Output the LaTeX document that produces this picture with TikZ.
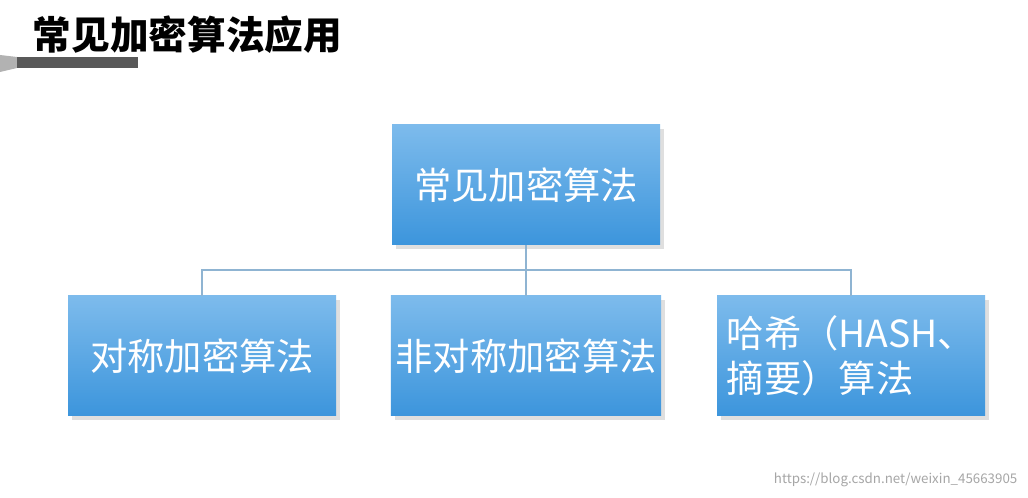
\documentclass[tikz,border=0pt]{standalone}
\usepackage{fontspec}
\setmainfont{Noto Sans CJK SC}
\usetikzlibrary{positioning,shadows}
\definecolor{boxtop}{HTML}{7DBBEC}
\definecolor{boxbot}{HTML}{3C95DC}
\definecolor{linkc}{HTML}{8FB4D2}
\tikzset{
  algbox/.style={rectangle, minimum width=268*0.75pt, minimum height=120*0.75pt,
    top color=boxtop, bottom color=boxbot, text=white, align=left,
    font=\fontsize{28}{34}\selectfont, drop shadow={opacity=0.25}},
  link/.style={draw=linkc, line width=0.8pt}
}
\begin{document}
\begin{tikzpicture}[x=0.75pt,y=-0.75pt]
    \useasboundingbox (0,0) rectangle (1028,498);
    \fill[white] (0,0) rectangle (1028,498);
    % title and bar
    \node[anchor=west, font=\fontsize{29}{34}\selectfont\bfseries] (title) at (28,35) {常见加密算法应用};
    \fill[gray!60] (0,55) -- (17,57) -- (17,68) -- (0,72) -- cycle;
    \fill[black!65] (17,57) rectangle (138,68);
    % boxes
    \node[algbox] (root) at (526,185) {常见加密算法};
    \node[algbox] (sym) at (202,356) {对称加密算法};
    \node[algbox] (asym) at (526,356) {非对称加密算法};
    \node[algbox] (hash) at (851,356) {哈希（HASH、\\摘要）算法};
    \coordinate (fork) at (526,270);
    \draw[link] (root.south) -- (fork);
    \foreach \leaf in {sym,asym,hash}
        \draw[link] (fork) -| (\leaf.north);
    \node[anchor=east, text=gray!70, font=\fontsize{10}{12}\selectfont] (mark) at (1022,480) {https://blog.csdn.net/weixin\_45663905};
\end{tikzpicture}
\end{document}
